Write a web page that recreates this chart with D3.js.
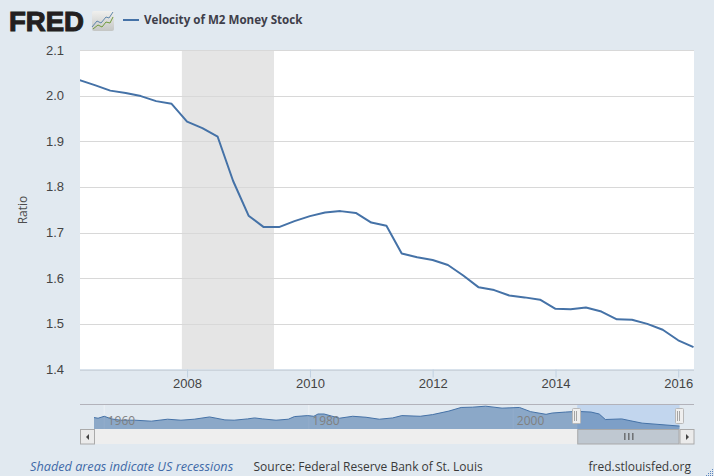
<!DOCTYPE html>
<html><head><meta charset="utf-8">
<style>html,body{margin:0;padding:0;background:#e1e9f0;overflow:hidden}svg{display:block}text{font-family:"Liberation Sans",Arial,sans-serif}</style>
<script src="https://cdn.jsdelivr.net/npm/d3@7/dist/d3.min.js"></script>
</head><body><svg id="c" width="714" height="476"></svg>
<script>
const seriesName = "Velocity of M2 Money Stock";
const yAxisTitle = "Ratio";
const startQuarter = [2006, 3];
const velocity = [2.034,2.023,2.011,2.006,1.999,1.988,1.982,1.943,1.929,1.910,1.813,1.737,1.712,1.712,1.725,1.736,1.744,1.747,1.743,1.722,1.715,1.654,1.646,1.640,1.629,1.606,1.580,1.574,1.562,1.558,1.553,1.533,1.532,1.536,1.527,1.510,1.509,1.500,1.487,1.464,1.449];
const yTicks = [1.4,1.5,1.6,1.7,1.8,1.9,2.0,2.1];
const xTickYears = [2008,2010,2012,2014,2016];
const recessionStart = "2007-12-01", recessionEnd = "2009-06-01";
const navYears = [1959.0,1959.4,1960.0,1960.7,1961.6,1963.0,1964.6,1966.2,1967.5,1968.8,1970.3,1971.8,1972.7,1974.0,1974.7,1975.5,1976.8,1978.0,1978.6,1979.9,1980.5,1980.9,1981.5,1982.2,1983.0,1984.3,1985.6,1986.9,1988.2,1989.1,1990.9,1992.1,1993.7,1994.9,1996.0,1997.3,1998.9,2000.6,2001.7,2003.2,2003.8,2005.1,2006.25,2007.6,2008.4,2009.0,2010.6,2011.5,2012.6,2016.25];
const navValues = [1.788,1.761,1.839,1.734,1.683,1.683,1.644,1.722,1.683,1.722,1.812,1.695,1.683,1.734,1.773,1.734,1.683,1.722,1.827,1.866,1.839,1.929,1.929,1.851,1.761,1.839,1.800,1.722,1.773,1.866,1.839,1.905,2.046,2.190,2.202,2.241,2.163,2.190,2.022,1.917,1.968,2.007,2.034,2.007,1.929,1.710,1.734,1.656,1.566,1.449];
const navLabelYears = [1960,1980,2000];
const footLeft = "Shaded areas indicate US recessions";
const footMid = "Source: Federal Reserve Bank of St. Louis";
const footRight = "fred.stlouisfed.org";

const svg = d3.select("#c");
const L=80,R=694,T=50,B=369.5;
const dates = velocity.map((v,i)=>new Date(Date.UTC(startQuarter[0],startQuarter[1]+i*3,1)));
const x = d3.scaleUtc().domain([dates[0],dates[dates.length-1]]).range([L-.5,R-.5]);
const y = d3.scaleLinear().domain([1.4,2.1]).range([B,T]);

svg.append("rect").attr("x",L).attr("y",T).attr("width",R-L).attr("height",B-T).attr("fill","#fff");
svg.append("rect").attr("x",x(new Date(recessionStart))).attr("y",T)
  .attr("width",x(new Date(recessionEnd))-x(new Date(recessionStart))).attr("height",B-T).attr("fill","#e5e5e5");
svg.append("g").selectAll("line").data(yTicks).join("line")
  .attr("x1",L).attr("x2",R).attr("y1",d=>Math.round(y(d))+.5).attr("y2",d=>Math.round(y(d))+.5)
  .attr("stroke","#d8d8d8").attr("stroke-width",1);
svg.append("g").selectAll("text").data(yTicks).join("text")
  .attr("x",64).attr("y",d=>y(d)+4.5).attr("text-anchor","end").attr("font-size",13).attr("fill","#444")
  .text(d=>d.toFixed(1));
svg.append("text").attr("transform","translate(27,210) rotate(-90)").attr("text-anchor","middle")
  .attr("font-size",12).attr("fill","#4d4d4d").style("font-family","'Open Sans'").text(yAxisTitle);

const xAxis = d3.axisBottom(x).tickValues(xTickYears.map(a=>new Date(Date.UTC(a,0,1)))).tickFormat(d3.utcFormat("%Y")).tickSize(8).tickPadding(3);
const gx = svg.append("g").attr("transform",`translate(0,${B})`).call(xAxis);
gx.select(".domain").attr("stroke","#c0d0e0").attr("d",`M${L},0.5H${R}`);
gx.selectAll(".tick line").attr("stroke","#c0d0e0");
gx.selectAll(".tick text").attr("font-size",13).attr("fill","#444").attr("font-family",null).attr("y",9);

svg.append("clipPath").attr("id","pc").append("rect").attr("x",L).attr("y",T).attr("width",R-L).attr("height",B-T);
svg.append("path").datum(velocity).attr("clip-path","url(#pc)").attr("fill","none").attr("stroke","#4572a7").attr("stroke-width",2).attr("stroke-linejoin","round")
  .attr("d",d3.line().x((d,i)=>x(dates[i])).y(d=>y(d)));

// header
svg.append("text").attr("x",9).attr("y",31).attr("font-size",28.5).attr("font-weight",700).attr("fill","#231f20")
  .attr("stroke","#231f20").attr("stroke-width",1.1).attr("textLength",75).attr("lengthAdjust","spacingAndGlyphs").text("FRED");
const defs = svg.append("defs");
const g = defs.append("linearGradient").attr("id","ic").attr("x1",0).attr("x2",0).attr("y1",0).attr("y2",1);
g.append("stop").attr("offset",0).attr("stop-color","#f0f0ee"); g.append("stop").attr("offset",1).attr("stop-color","#c4c6c4");
svg.append("rect").attr("x",92).attr("y",11).attr("width",22).attr("height",20).attr("rx",2).attr("fill","url(#ic)");
svg.append("path").attr("d","M92,27L97,21L101,23L106,17L109,18L113,12").attr("fill","none").attr("stroke","#5f86ab").attr("stroke-width",1);
svg.append("path").attr("d","M93,29L98,25L102,27L106,22L110,23L113,17").attr("fill","none").attr("stroke","#6f9a3c").attr("stroke-width",1);
svg.append("line").attr("x1",123).attr("x2",139).attr("y1",20).attr("y2",20).attr("stroke","#4572a7").attr("stroke-width",2);
svg.append("text").attr("x",144).attr("y",24).style("font-family","'Open Sans'").attr("font-size",11.6).attr("font-weight",700).attr("fill","#3e3e4a").text(seriesName);

// navigator
const nL=94,nR=679.5,nT=405,nB=429;
const nx = d3.scaleLinear().domain([navYears[0],navYears[navYears.length-1]]).range([nL,nR]);
const ny = d3.scaleLinear().domain([1.332,2.288]).range([nB,nT]);
const selA = nx(2006.25), selB = nR;
svg.append("rect").attr("x",selA).attr("y",nT).attr("width",selB-selA).attr("height",nB-nT).attr("fill","#c2d6ee");
svg.append("g").selectAll("line").data(navLabelYears).join("line")
  .attr("x1",d=>nx(d)).attr("x2",d=>nx(d)).attr("y1",nT).attr("y2",nB).attr("stroke","#eef2f6").attr("stroke-width",1);
svg.append("path").datum(navValues).attr("fill","#4572a7").attr("fill-opacity",.55)
  .attr("d",d3.area().x((d,i)=>nx(navYears[i])).y0(nB).y1(d=>ny(d)));
svg.append("path").datum(navValues).attr("fill","none").attr("stroke","#4572a7").attr("stroke-width",1)
  .attr("d",d3.line().x((d,i)=>nx(navYears[i])).y(d=>ny(d)));
svg.append("g").selectAll("text").data(navLabelYears).join("text")
  .attr("x",d=>nx(d)+3.5).attr("y",425).attr("font-size",12).attr("fill","#808080").style("font-family","'Open Sans'").text(d=>d);
svg.append("line").attr("x1",L).attr("x2",R).attr("y1",404.5).attr("y2",404.5).attr("stroke","#b2b2ba");

// scrollbar
svg.append("rect").attr("x",nL).attr("y",429).attr("width",R-nL).attr("height",15).attr("fill","#eeeeee");
svg.append("rect").attr("x",selA+.5).attr("y",429.5).attr("width",selB-selA-1).attr("height",14.5).attr("fill","#bfc8d1").attr("stroke","#a9a9a9");
[-4,0,4].forEach(d=>svg.append("line").attr("x1",(selA+selB)/2+d+.5).attr("x2",(selA+selB)/2+d+.5).attr("y1",433).attr("y2",440).attr("stroke","#444"));
[[L,"M89,434v6l-3,-3z"],[nR,"M686,434v6l3,-3z"]].forEach(([bx,tri])=>{
  svg.append("rect").attr("x",bx+.5).attr("y",429.5).attr("width",14).attr("height",14.5).attr("fill","#ebebeb").attr("stroke","#aaa");
  svg.append("path").attr("d",tri).attr("fill","#444");
});
// handles
[selA,selB].forEach(h=>{
  svg.append("rect").attr("x",Math.round(h)-4.5).attr("y",408.5).attr("width",8).attr("height",15).attr("rx",1).attr("fill","#efefef").attr("stroke","#b8b8b8");
  [-2,0].forEach(d=>svg.append("line").attr("x1",Math.round(h)+d-.5).attr("x2",Math.round(h)+d-.5).attr("y1",411).attr("y2",421).attr("stroke","#a5a5a5"));
});

// footer
svg.append("text").attr("x",30).attr("y",471).style("font-family","'Open Sans'").attr("font-size",12.7).attr("font-style","italic").attr("fill","#3f69a8").text(footLeft);
svg.append("text").attr("x",253.5).attr("y",471).style("font-family","'Open Sans'").attr("font-size",12).attr("fill","#3a3a3a").text(footMid);
svg.append("text").attr("x",691).attr("y",471).attr("text-anchor","end").style("font-family","'Open Sans'").attr("font-size",12).attr("fill","#3a3a3a").text(footRight);
// resize grip
svg.append("g").selectAll("rect").data([[712,469],[712,471],[710,471],[712,473],[710,473],[708,473],[712,475],[710,475],[708,475],[706,475]]).join("rect")
  .attr("x",d=>d[0]).attr("y",d=>d[1]).attr("width",1).attr("height",1).attr("fill","#5b84bd");
</script></body></html>
